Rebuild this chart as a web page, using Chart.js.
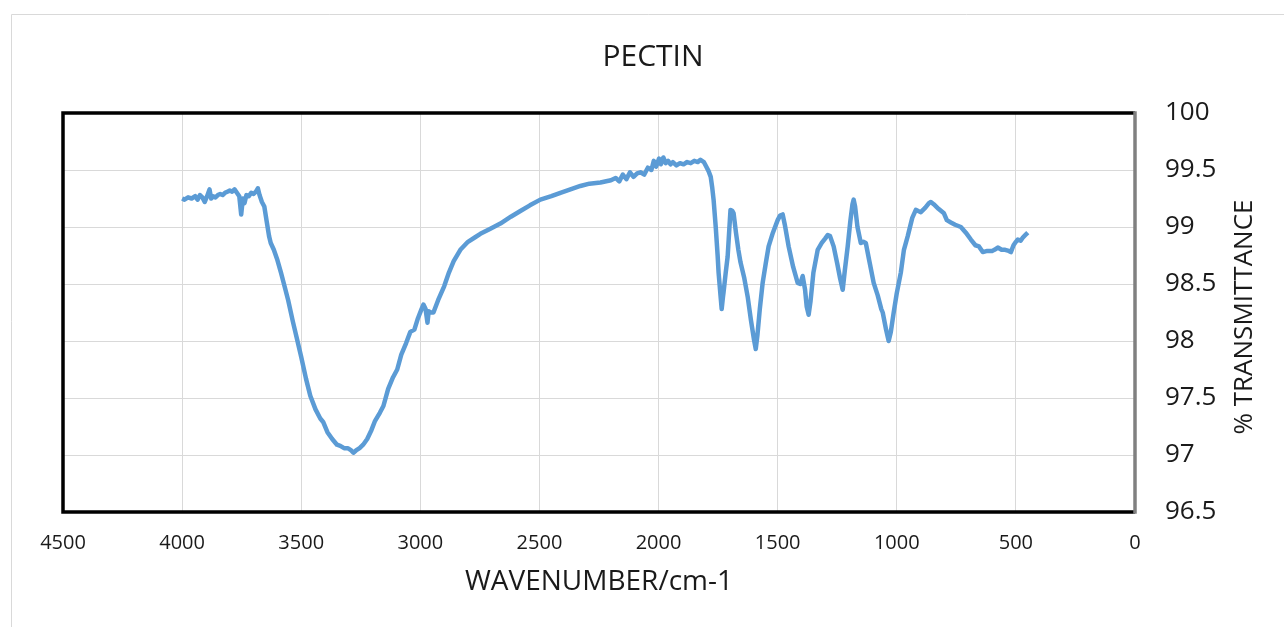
<!DOCTYPE html>
<html>
<head>
<meta charset="utf-8">
<title>PECTIN</title>
<script src="https://cdn.jsdelivr.net/npm/chart.js@4"></script>
<style>
  html, body { margin: 0; padding: 0; background: #fff; }
  #wrap { width: 1284px; height: 627px; }
</style>
</head>
<body>
<div id="wrap"><canvas id="ftir" width="1284" height="627"></canvas></div>
<script>
// FTIR spectrum of pectin
const wavenumbers = [
  4000, 3990, 3975, 3960, 3945, 3935, 3925, 3915, 3905, 3895, 3885, 3878, 3870, 3860, 3850,
  3840, 3830, 3820, 3810, 3800, 3790, 3780, 3770, 3760, 3752, 3745, 3738, 3730, 3720, 3710,
  3700, 3690, 3682, 3675, 3665, 3655, 3645, 3635, 3628, 3615, 3600, 3585, 3570, 3555, 3535,
  3517, 3500, 3480, 3462, 3440, 3420, 3408, 3390, 3370, 3350, 3336, 3320, 3305, 3290, 3281,
  3270, 3255, 3240, 3223, 3205, 3190, 3170, 3155, 3135, 3115, 3097, 3080, 3060, 3042, 3025,
  3010, 2995, 2987, 2978, 2970, 2965, 2955, 2945, 2925, 2900, 2880, 2860, 2832, 2800, 2770,
  2748, 2710, 2664, 2620, 2580, 2540, 2496, 2450, 2412, 2370, 2328, 2290, 2244, 2200, 2180,
  2165, 2150, 2135, 2120, 2105, 2090, 2076, 2060, 2045, 2030, 2020, 2010, 1998, 1990, 1980,
  1970, 1960, 1950, 1940, 1925, 1910, 1895, 1880, 1865, 1850, 1835, 1824, 1810, 1800, 1790,
  1781, 1775, 1769, 1760, 1752, 1748, 1740, 1735, 1730, 1727, 1718, 1710, 1703, 1698, 1690,
  1685, 1675, 1665, 1656, 1640, 1626, 1612, 1600, 1592, 1585, 1575, 1563, 1550, 1538, 1520,
  1500, 1490, 1479, 1470, 1454, 1435, 1416, 1405, 1395, 1385, 1378, 1370, 1362, 1350, 1332,
  1315, 1300, 1290, 1280, 1265, 1250, 1238, 1227, 1218, 1206, 1195, 1186, 1181, 1175, 1165,
  1151, 1140, 1130, 1115, 1097, 1080, 1065, 1059, 1045, 1034, 1025, 1013, 1000, 983, 970,
  954, 935, 920, 910, 899, 880, 865, 857, 845, 825, 802, 790, 773, 755, 731,
  710, 689, 670, 655, 639, 620, 600, 590, 576, 560, 545, 530, 521, 510, 500,
  492, 480, 470, 460, 450
];
const transmittance = [
  99.25, 99.24, 99.26, 99.25, 99.27, 99.24, 99.28, 99.26, 99.22, 99.27, 99.33, 99.25, 99.27, 99.26, 99.28,
  99.29, 99.28, 99.30, 99.31, 99.32, 99.31, 99.33, 99.30, 99.27, 99.11, 99.25, 99.21, 99.28, 99.27, 99.30,
  99.29, 99.31, 99.34, 99.28, 99.22, 99.18, 99.05, 98.92, 98.86, 98.80, 98.71, 98.60, 98.48, 98.36, 98.17,
  98.01, 97.86, 97.67, 97.52, 97.40, 97.32, 97.29, 97.20, 97.14, 97.09, 97.08, 97.06, 97.06, 97.04, 97.02,
  97.04, 97.06, 97.09, 97.14, 97.22, 97.30, 97.37, 97.43, 97.58, 97.68, 97.75, 97.88, 97.98, 98.08, 98.10,
  98.20, 98.28, 98.32, 98.28, 98.16, 98.26, 98.25, 98.25, 98.36, 98.48, 98.60, 98.70, 98.80, 98.87, 98.91,
  98.94, 98.98, 99.03, 99.09, 99.14, 99.19, 99.24, 99.27, 99.30, 99.33, 99.36, 99.38, 99.39, 99.41, 99.43,
  99.40, 99.46, 99.42, 99.48, 99.44, 99.47, 99.48, 99.46, 99.52, 99.50, 99.58, 99.53, 99.60, 99.55, 99.61,
  99.56, 99.58, 99.55, 99.57, 99.54, 99.56, 99.55, 99.57, 99.56, 99.58, 99.57, 99.59, 99.57, 99.53, 99.49,
  99.44, 99.35, 99.24, 99.00, 98.75, 98.60, 98.40, 98.28, 98.38, 98.43, 98.60, 98.74, 98.98, 99.15, 99.14,
  99.12, 98.95, 98.80, 98.69, 98.55, 98.39, 98.18, 98.02, 97.93, 98.05, 98.28, 98.51, 98.68, 98.83, 98.95,
  99.06, 99.10, 99.11, 99.02, 98.83, 98.65, 98.51, 98.50, 98.57, 98.45, 98.30, 98.23, 98.35, 98.60, 98.80,
  98.86, 98.90, 98.93, 98.92, 98.83, 98.68, 98.55, 98.45, 98.62, 98.83, 99.05, 99.20, 99.24, 99.18, 99.00,
  98.86, 98.87, 98.86, 98.70, 98.51, 98.40, 98.28, 98.25, 98.10, 98.00, 98.08, 98.25, 98.42, 98.60, 98.80,
  98.92, 99.08, 99.15, 99.14, 99.13, 99.17, 99.21, 99.22, 99.20, 99.16, 99.12, 99.06, 99.04, 99.02, 99.00,
  98.95, 98.89, 98.84, 98.83, 98.78, 98.79, 98.79, 98.80, 98.82, 98.80, 98.80, 98.79, 98.78, 98.84, 98.87,
  98.89, 98.88, 98.91, 98.93, 98.95
];

const chartTitle = 'PECTIN';
const xTitle = 'WAVENUMBER/cm-1';
const yTitle = '% TRANSMITTANCE';

const fontFamily = "'Open Sans', 'DejaVu Sans', sans-serif";
const textColor = '#1a1a1a';
const gridColor = '#d9d9d9';

// frame around the plot area + chart title + rotated y title
const framePlugin = {
  id: 'frame',
  beforeDraw(chart) {
    const ctx = chart.ctx;
    ctx.save();
    ctx.strokeStyle = '#d9d9d9';
    ctx.lineWidth = 1;
    ctx.beginPath();
    ctx.moveTo(11.5, 700);
    ctx.lineTo(11.5, 14.5);
    ctx.lineTo(1300, 14.5);
    ctx.stroke();
    ctx.restore();
  },
  afterDraw(chart) {
    const { ctx, chartArea: a } = chart;
    ctx.save();
    ctx.lineWidth = 3.5;
    ctx.strokeStyle = '#000';
    ctx.beginPath();
    ctx.moveTo(a.right, a.top);
    ctx.lineTo(a.left, a.top);
    ctx.lineTo(a.left, a.bottom);
    ctx.lineTo(a.right, a.bottom);
    ctx.stroke();
    ctx.strokeStyle = '#808080';
    ctx.beginPath();
    ctx.moveTo(a.right, a.top - 1.7);
    ctx.lineTo(a.right, a.bottom + 1.7);
    ctx.stroke();

    ctx.fillStyle = textColor;
    ctx.textAlign = 'center';
    ctx.textBaseline = 'middle';
    ctx.font = '30px ' + fontFamily;
    ctx.fillText(chartTitle, 653, 57);

    ctx.translate(1245, 317);
    ctx.rotate(-Math.PI / 2);
    ctx.font = '26px ' + fontFamily;
    ctx.fillText(yTitle, 0, 0);
    ctx.restore();
  }
};

const points = wavenumbers.map((w, i) => ({ x: w, y: transmittance[i] }));

new Chart(document.getElementById('ftir'), {
  type: 'scatter',
  data: {
    datasets: [{
      data: points,
      showLine: true,
      borderColor: '#5B9BD5',
      borderWidth: 4.5,
      borderJoinStyle: 'round',
      pointRadius: 0,
      tension: 0
    }]
  },
  options: {
    responsive: false,
    animation: false,
    layout: { padding: { left: 63, top: 113, right: 0, bottom: 0 } },
    plugins: {
      legend: { display: false },
      tooltip: { enabled: false }
    },
    scales: {
      x: {
        type: 'linear',
        reverse: true,
        min: 0,
        max: 4500,
        border: { display: false },
        grid: { color: gridColor, lineWidth: 1, drawTicks: false },
        ticks: {
          stepSize: 500,
          padding: 19,
          color: textColor,
          font: { family: fontFamily, size: 20 },
          callback: v => String(v)
        },
        title: {
          display: true,
          text: xTitle,
          color: textColor,
          font: { family: fontFamily, size: 28 },
          padding: { top: 0, bottom: 28 }
        },
        afterFit: s => { s.height = 115; }
      },
      y: {
        position: 'right',
        min: 96.5,
        max: 100,
        border: { display: false },
        grid: { color: gridColor, lineWidth: 1, drawTicks: false },
        ticks: {
          stepSize: 0.5,
          padding: 30,
          color: textColor,
          font: { family: fontFamily, size: 26 },
          callback: v => String(v)
        },
        afterFit: s => { s.width = 149; }
      }
    }
  },
  plugins: [framePlugin]
});
</script>
</body>
</html>
